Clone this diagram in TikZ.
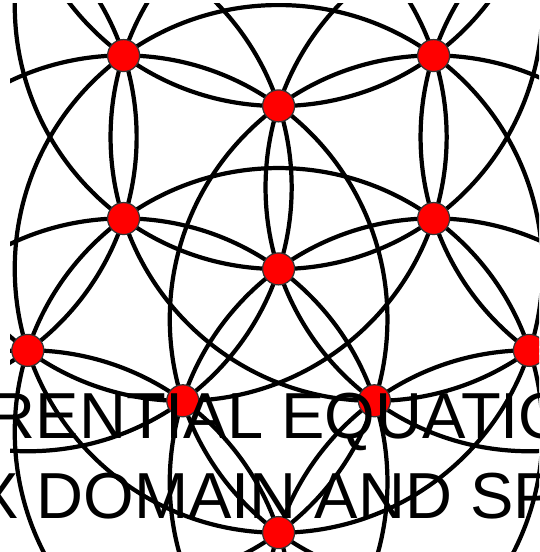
\documentclass[tikz,border=0pt]{standalone}
\usepackage{fontspec}
\setmainfont{Liberation Sans}
\usetikzlibrary{calc}
\begin{document}
\begin{tikzpicture}[x=0.01cm,y=-0.01cm,
  ring/.style={draw=black,line width=1.2pt},
  dot/.style={circle,fill=red,draw=black!80,line width=0.35pt,minimum size=0.32cm,inner sep=0pt},
  title/.style={anchor=base west,inner sep=0pt,font=\fontsize{18.5pt}{22pt}\selectfont}]
\useasboundingbox (0,0) rectangle (539,552);
\coordinate (O) at (278.6,268.9);
\begin{scope}
  \clip (10,4) rectangle (539,552);
  % circle through the outer five points
  \draw[ring] (O) circle[radius=2.637cm];
  % circles centred on the small pentagon
  \foreach \t in {90,162,234,306,18}
    \draw[ring] ($(O)+(\t:163)$) circle[radius=2.637cm];
  % circles through the centre, and the far circles
  \foreach \t in {270,342,54,126,198} {
    \draw[ring] ($(O)+(\t:263.7)$) circle[radius=2.637cm];
    \draw[ring] ($(O)+(\t:426.7)$) circle[radius=2.637cm];
  }
  % points
  \node[dot] (F) at (O) {};
  \node[dot] (C) at ($(O)+(270:163)$) {};
  \node[dot] (E) at ($(O)+(342:163)$) {};
  \node[dot] (J) at ($(O)+(54:163)$) {};
  \node[dot] (I) at ($(O)+(126:163)$) {};
  \node[dot] (D) at ($(O)+(198:163)$) {};
  \node[dot] (K) at ($(O)+(90:263.7)$) {};
  \node[dot] (G) at ($(O)+(162:263.7)$) {};
  \node[dot] (A) at ($(O)+(234:263.7)$) {};
  \node[dot] (B) at ($(O)+(306:263.7)$) {};
  \node[dot] (H) at ($(O)+(18:263.7)$) {};
\end{scope}
\node[title] (t1) at (-12,438) {RENTIAL EQUATIO};
\node[title] (t2) at (-25.5,518) {X DOMAIN AND SP};
\end{tikzpicture}
\end{document}
